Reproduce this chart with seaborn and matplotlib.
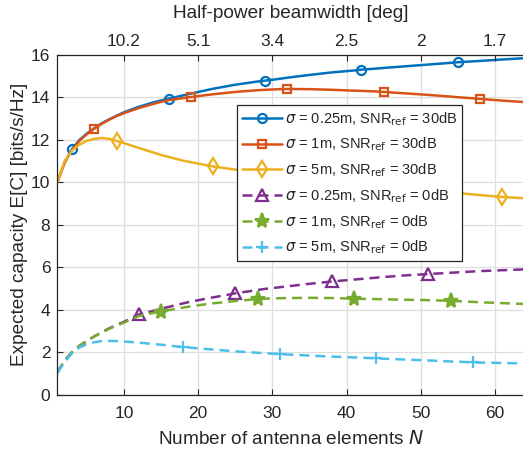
import matplotlib
matplotlib.use('Agg')
import matplotlib.pyplot as plt
from matplotlib.lines import Line2D
import seaborn as sns

# Number of antenna elements (read points, incl. all marker positions)
N = [1, 2, 3, 4, 5, 6, 7, 8, 9, 10, 12, 14, 15, 16, 18, 19, 22, 25, 28, 29,
     31, 32, 35, 38, 41, 42, 44, 45, 48, 51, 54, 55, 57, 58, 61, 64]

# Expected capacity [bits/s/Hz]
cap_025_30 = [10.0, 10.95, 11.57, 12.0, 12.3, 12.55, 12.78, 12.97, 13.14, 13.30,
              13.56, 13.77, 13.86, 13.94, 14.10, 14.18, 14.41, 14.60, 14.75, 14.79,
              14.88, 14.93, 15.06, 15.18, 15.27, 15.31, 15.36, 15.39, 15.47, 15.55,
              15.63, 15.66, 15.70, 15.72, 15.79, 15.85]
cap_1_30 = [10.0, 10.93, 11.52, 11.96, 12.27, 12.53, 12.76, 12.95, 13.12, 13.26,
            13.50, 13.70, 13.79, 13.87, 13.97, 14.02, 14.15, 14.26, 14.34, 14.36,
            14.39, 14.40, 14.39, 14.36, 14.32, 14.31, 14.28, 14.26, 14.19, 14.12,
            14.04, 14.01, 13.96, 13.93, 13.85, 13.78]
cap_5_30 = [10.0, 11.0, 11.5, 11.78, 11.96, 12.05, 12.09, 12.05, 11.95, 11.85,
            11.62, 11.40, 11.29, 11.20, 11.02, 10.95, 10.75, 10.60, 10.45, 10.41,
            10.33, 10.29, 10.18, 10.07, 9.97, 9.94, 9.88, 9.85, 9.76, 9.66,
            9.56, 9.50, 9.43, 9.40, 9.31, 9.25]
cap_025_0 = [1.05, 1.6, 2.0, 2.3, 2.53, 2.74, 2.94, 3.12, 3.28, 3.43,
             3.78, 3.95, 4.05, 4.13, 4.30, 4.38, 4.58, 4.77, 4.93, 4.98,
             5.06, 5.10, 5.22, 5.33, 5.42, 5.45, 5.51, 5.54, 5.62, 5.68,
             5.74, 5.76, 5.80, 5.82, 5.86, 5.90]
cap_1_0 = [1.05, 1.6, 2.0, 2.3, 2.53, 2.74, 2.93, 3.10, 3.25, 3.39,
           3.70, 3.85, 3.91, 3.98, 4.10, 4.16, 4.30, 4.41, 4.50, 4.52,
           4.54, 4.55, 4.56, 4.55, 4.52, 4.51, 4.50, 4.49, 4.47, 4.45,
           4.42, 4.40, 4.37, 4.35, 4.31, 4.27]
cap_5_0 = [1.0, 1.55, 1.95, 2.22, 2.38, 2.47, 2.52, 2.53, 2.52, 2.50,
           2.45, 2.38, 2.35, 2.31, 2.24, 2.21, 2.12, 2.04, 1.97, 1.95,
           1.91, 1.89, 1.84, 1.79, 1.75, 1.74, 1.71, 1.69, 1.65, 1.61,
           1.56, 1.55, 1.52, 1.51, 1.49, 1.47]

# N values where markers are drawn
marks_025_30 = [3, 16, 29, 42, 55]
marks_1_30 = [6, 19, 32, 45, 58]
marks_5_30 = [9, 22, 35, 48, 61]
marks_025_0 = [12, 25, 38, 51]
marks_1_0 = [15, 28, 41, 54]
marks_5_0 = [18, 31, 44, 57]

labels = [
    r'$\sigma$ = 0.25m, SNR$_{\mathrm{ref}}$ = 30dB',
    r'$\sigma$ = 1m, SNR$_{\mathrm{ref}}$ = 30dB',
    r'$\sigma$ = 5m, SNR$_{\mathrm{ref}}$ = 30dB',
    r'$\sigma$ = 0.25m, SNR$_{\mathrm{ref}}$ = 0dB',
    r'$\sigma$ = 1m, SNR$_{\mathrm{ref}}$ = 0dB',
    r'$\sigma$ = 5m, SNR$_{\mathrm{ref}}$ = 0dB',
]

x_ticks = [10, 20, 30, 40, 50, 60]
beam_labels = ['10.2', '5.1', '3.4', '2.5', '2', '1.7']
y_ticks = [0, 2, 4, 6, 8, 10, 12, 14, 16]

sns.set_theme(style="whitegrid")
plt.rcParams['font.family'] = ['Liberation Sans', 'DejaVu Sans']
plt.rcParams['mathtext.fontset'] = 'dejavusans'

AX_COL = '#262626'
DASH = (0, (4, 2.4))
fig = plt.figure(figsize=(5.23, 4.53), dpi=100)
ax = fig.add_axes([0.1094, 0.1289, 0.8939, 0.7497])
ax.set_facecolor('white')

styles = [
    (cap_025_30, marks_025_30, '#0072BD', 'o', '-', 'none', 6.5),
    (cap_1_30, marks_1_30, '#D95319', 's', '-', 'none', 5.5),
    (cap_5_30, marks_5_30, '#EDB120', 'd', '-', 'none', 8.5),
    (cap_025_0, marks_025_0, '#7E2F8E', '^', DASH, 'none', 8.5),
    (cap_1_0, marks_1_0, '#77AC30', '*', DASH, '#77AC30', 11.0),
    (cap_5_0, marks_5_0, '#4DBEEE', '+', DASH, 'none', 8.0),
]

handles = []
for (vals, marks, col, mk, ls, mfc, ms), lab in zip(styles, labels):
    idx = [N.index(n) for n in marks]
    sns.lineplot(x=N, y=vals, ax=ax, color=col, linewidth=1.8, linestyle=ls,
                 marker=mk, markevery=idx, markersize=ms, markerfacecolor=mfc,
                 markeredgecolor=col, markeredgewidth=1.6, errorbar=None)
    handles.append(Line2D([], [], color=col, linewidth=1.8, linestyle=ls,
                          marker=mk, markersize=ms, markerfacecolor=mfc,
                          markeredgecolor=col, markeredgewidth=1.6, label=lab))

ax.set_xlim(1, 64)
ax.set_ylim(0, 16)
ax.set_xticks(x_ticks)
ax.set_yticks(y_ticks)
ax.grid(True, color='#dedede', linewidth=0.9)
for sp in ax.spines.values():
    sp.set_color(AX_COL)
    sp.set_linewidth(0.9)
ax.tick_params(direction='in', length=4, width=0.8, colors=AX_COL,
               labelsize=12.5, left=True, bottom=True)
ax.tick_params(axis='x', pad=8)
ax.tick_params(axis='y', pad=5)
ax.set_xlabel('Number of antenna elements $N$', fontsize=13.7, color=AX_COL,
              labelpad=6.5)
ax.set_ylabel('Expected capacity E[C] [bits/s/Hz]', fontsize=13.7,
              color=AX_COL, labelpad=2)

ax2 = ax.twiny()
ax2.set_xlim(ax.get_xlim())
ax2.set_xticks(x_ticks)
ax2.set_xticklabels(beam_labels)
ax2.grid(False)
ax2.tick_params(direction='in', length=4, width=0.8, colors=AX_COL,
                labelsize=12.5, pad=4.5, top=True)
ax2.set_xlabel('Half-power beamwidth [deg]', fontsize=13.7, color=AX_COL,
               labelpad=11.5)
for sp in ax2.spines.values():
    sp.set_visible(False)

leg = ax.legend(handles=handles, loc='upper right',
                bbox_to_anchor=(0.866, 0.853), fontsize=10.5, frameon=True,
                fancybox=False, framealpha=1, edgecolor=AX_COL,
                handlelength=2.7, labelspacing=0.55, borderpad=0.35,
                handletextpad=0.2, borderaxespad=0)
leg.get_frame().set_linewidth(0.9)

fig.savefig('out.png', dpi=100)
